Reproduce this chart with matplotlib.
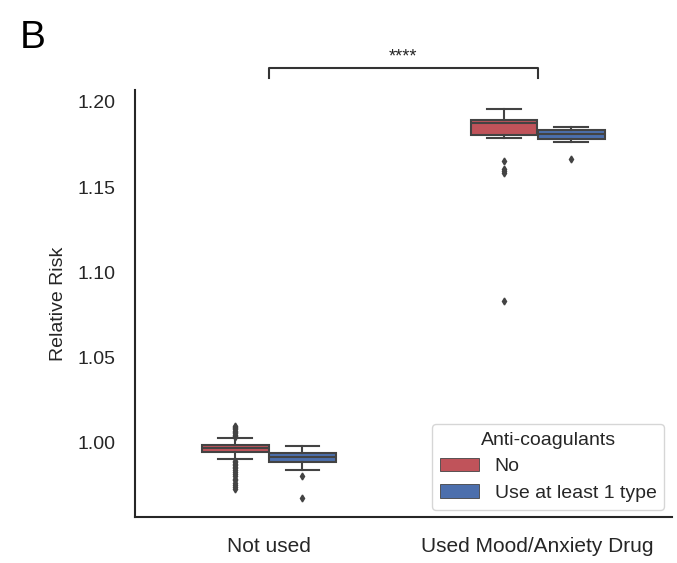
import matplotlib
matplotlib.use("Agg")
import matplotlib.pyplot as plt
from matplotlib.patches import Patch

plt.rcParams['font.family'] = ['Liberation Sans', 'DejaVu Sans']

# ---------------- data ----------------
categories = ["Not used", "Used Mood/Anxiety Drug"]
hue_levels = ["No", "Use at least 1 type"]

no_q1 = [0.9949, 1.1804]
no_median = [0.9970, 1.1874]
no_q3 = [0.9988, 1.1892]
no_whislo = [0.9906, 1.1788]
no_whishi = [1.0029, 1.1956]
no_fliers = [
    [1.0035, 1.0043, 1.0049, 1.0056, 1.0064, 1.0070, 1.0079, 1.0086, 1.0094, 1.0101,
     0.9897, 0.9888, 0.9879, 0.9871, 0.9860, 0.9852, 0.9839, 0.9830, 0.9816, 0.9806,
     0.9791, 0.9780, 0.9766, 0.9752, 0.9741, 0.9731],
    [1.1653, 1.1609, 1.1597, 1.1585, 1.0830],
]

use_q1 = [0.9891, 1.1780]
use_median = [0.9915, 1.1814]
use_q3 = [0.9941, 1.1835]
use_whislo = [0.9844, 1.1767]
use_whishi = [0.9981, 1.1852]
use_fliers = [
    [0.9809, 0.9678],
    [1.1665],
]

significance = "****"

# ---------------- style ----------------
colors = ["#C0535A", "#4C6FAD"]
edge = "#434343"

fig = plt.figure(figsize=(6.77, 5.63), dpi=100)
ax = fig.add_axes([134.5 / 677, 1 - 517.3 / 563, (672 - 134.5) / 677, (517.3 - 90) / 563])

series = [
    (no_q1, no_median, no_q3, no_whislo, no_whishi, no_fliers),
    (use_q1, use_median, use_q3, use_whislo, use_whishi, use_fliers),
]
width = 0.25
for j, (q1, med, q3, lo, hi, fl) in enumerate(series):
    stats = []
    for i in range(len(categories)):
        stats.append(dict(q1=q1[i], med=med[i], q3=q3[i], whislo=lo[i], whishi=hi[i],
                          fliers=fl[i], label=categories[i]))
    positions = [i + (j - 0.5) * width for i in range(len(categories))]
    ax.bxp(stats, positions=positions, widths=width * 0.995, patch_artist=True,
           manage_ticks=False, capwidths=width / 2,
           boxprops=dict(facecolor=colors[j], edgecolor=edge, linewidth=1.5),
           whiskerprops=dict(color=edge, linewidth=1.5),
           capprops=dict(color=edge, linewidth=1.5),
           medianprops=dict(color=edge, linewidth=1.5),
           flierprops=dict(marker='d', markerfacecolor=edge, markeredgecolor=edge,
                           markersize=3.5, linestyle='none'))

ax.set_xlim(-0.5, len(categories) - 0.5)
ax.set_xticks(range(len(categories)))
ax.set_xticklabels(categories)
ax.margins(y=0.05)
ax.autoscale_view()
ylo, yhi = ax.get_ylim()
ax.set_ylim(ylo, yhi)
ax.set_yticks([1.00, 1.05, 1.10, 1.15, 1.20])
ax.set_yticklabels(["1.00", "1.05", "1.10", "1.15", "1.20"])

ax.tick_params(axis='both', length=0, pad=14, labelsize=14, colors='#262626')
ax.tick_params(axis='x', labelsize=15)
for s in ['top', 'right']:
    ax.spines[s].set_visible(False)
for s in ['left', 'bottom']:
    ax.spines[s].set_linewidth(1.5)
    ax.spines[s].set_color('#262626')

ax.set_ylabel("Relative Risk", fontsize=14, color='#262626', labelpad=7)

# significance bracket
yb = 1.2198
yt = 1.2138
ax.plot([0, 0, 1, 1], [yt, yb, yb, yt], color='#333333', linewidth=1.5,
        clip_on=False, scalex=False, scaley=False)
ax.text(0.5, 1.2237, significance, ha='center', va='baseline', fontsize=13, color='#262626')

# legend
handles = [Patch(facecolor=colors[k], edgecolor=edge, linewidth=0.6, label=hue_levels[k])
           for k in range(len(hue_levels))]
leg = ax.legend(handles=handles, title="Anti-coagulants", loc='lower right', fontsize=14,
                title_fontsize=14, frameon=True, fancybox=True, labelspacing=0.45,
                borderaxespad=0.4)
leg.get_frame().set_edgecolor('0.8')
for t in leg.get_texts():
    t.set_color('#262626')
leg.get_title().set_color('#262626')

fig.text(20 / 677, 1 - 48 / 563, "B", fontsize=28, ha='left', va='baseline')

fig.savefig("out.png", dpi=100)
